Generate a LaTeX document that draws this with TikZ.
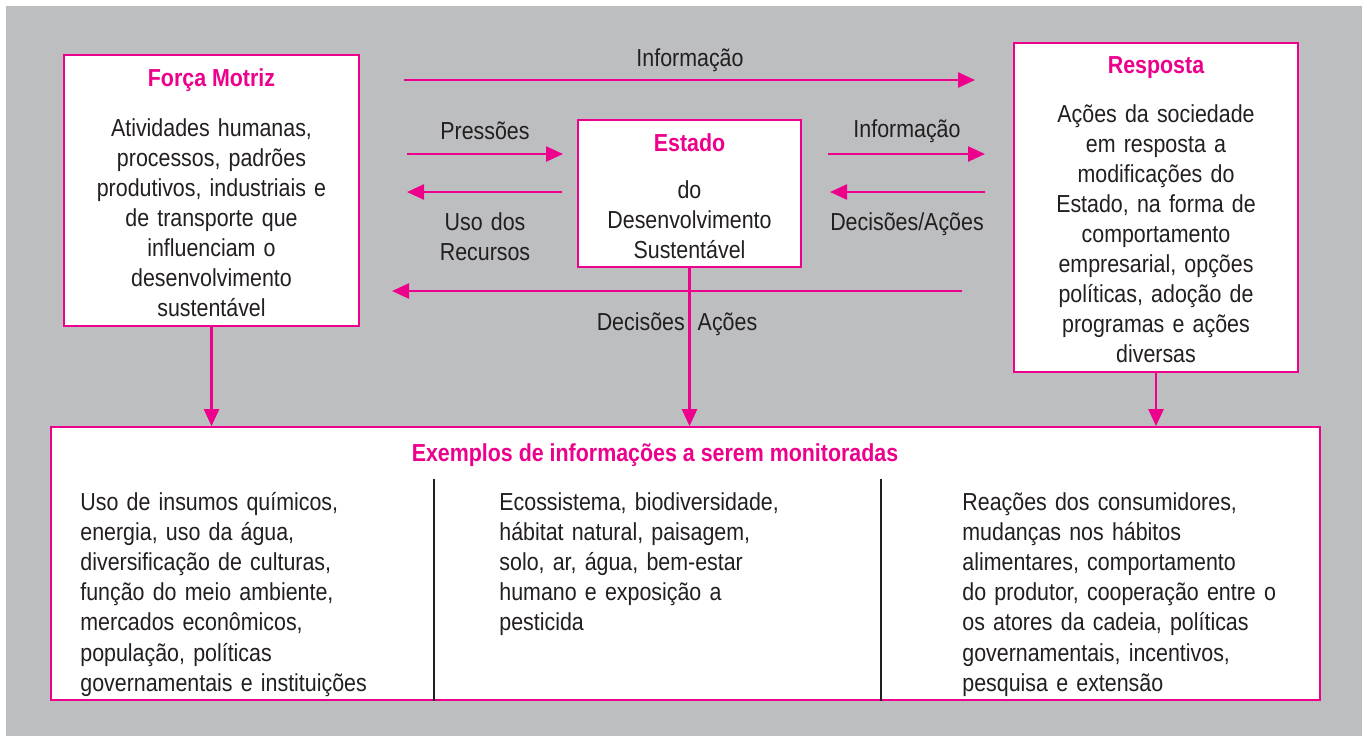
\documentclass[tikz,border=0pt]{standalone}
\usepackage{fontspec}
\setmainfont[FakeStretch=0.87]{Liberation Sans}
\usetikzlibrary{arrows.meta}
\definecolor{mag}{HTML}{EC008C}
\definecolor{bg}{HTML}{BCBEC0}
\definecolor{ink}{HTML}{231F20}
\begin{document}
\begin{tikzpicture}[x=0.5pt,y=-0.5pt,
  box/.style={draw=mag,line width=0.9pt,fill=white,inner sep=0pt,rectangle},
  txt/.style={text=ink,font=\fontsize{12.3}{15.05}\selectfont,inner sep=0pt,align=center,text width=170pt,anchor=base},
  coltxt/.style={text=ink,font=\fontsize{12.3}{15.1}\selectfont,inner sep=0pt,align=left,text width=190pt,anchor=base west},
  ttl/.style={text=mag,font=\fontsize{12.3}{15}\selectfont\bfseries,inner sep=0pt,anchor=base},
  arr/.style={draw=mag,line width=1.2pt,-{Triangle[length=8.5pt,width=7.5pt]}},
  divline/.style={draw=ink,line width=0.6pt}]
\useasboundingbox (0,0) rectangle (1367,736);
\fill[white] (0,0) rectangle (1367,736);
\fill[bg] (6,6) rectangle (1362,736);

% boxes
\node[box,minimum width=147.5pt,minimum height=135.5pt] (fm) at (211.5,190.5) {};
\node[box,minimum width=111.5pt,minimum height=73.5pt] (est) at (689.5,193.5) {};
\node[box,minimum width=142pt,minimum height=164.5pt] (resp) at (1156,207.5) {};
\node[box,minimum width=634.5pt,minimum height=136.5pt] (bot) at (685.5,563.5) {};

% box titles and texts
\node[ttl] (fmt) at (211.5,86) {Força Motriz};
\node[txt] (fmb) at (211.5,136) {Atividades humanas,\\processos, padrões\\produtivos, industriais e\\de transporte que\\influenciam o\\desenvolvimento\\sustentável};
\node[ttl] (estt) at (689.5,151) {Estado};
\node[txt] (estb) at (689.5,198) {do\\Desenvolvimento\\Sustentável};
\node[ttl] (respt) at (1156,73) {Resposta};
\node[txt] (respb) at (1156,122) {Ações da sociedade\\em resposta a\\modificações do\\Estado, na forma de\\comportamento\\empresarial, opções\\políticas, adoção de\\programas e ações\\diversas};
\node[ttl] (bott) at (655,461) {Exemplos de informações a serem monitoradas};

% columns
\node[coltxt] (c1) at (80,510) {Uso de insumos químicos,\\energia, uso da água,\\diversificação de culturas,\\função do meio ambiente,\\mercados econômicos,\\população, políticas\\governamentais e instituições};
\node[coltxt] (c2) at (499,510) {Ecossistema, biodiversidade,\\hábitat natural, paisagem,\\solo, ar, água, bem-estar\\humano e exposição a\\pesticida};
\node[coltxt] (c3) at (962,510) {Reações dos consumidores,\\mudanças nos hábitos\\alimentares, comportamento\\do produtor, cooperação entre o\\os atores da cadeia, políticas\\governamentais, incentivos,\\pesquisa e extensão};

% dividers
\coordinate (d1a) at (434,479);
\coordinate (d2a) at (881,479);
\draw[divline] (d1a) -- (d1a |- bot.south);
\draw[divline] (d2a) -- (d2a |- bot.south);

% arrow labels
\node[txt] (linfo1) at (690,66) {Informação};
\node[txt] (lpress) at (485,139) {Pressões};
\node[txt] (luso) at (485,230) {Uso dos\\Recursos};
\node[txt] (linfo2) at (907,137) {Informação};
\node[txt] (ldec1) at (907,230) {Decisões/Ações};
\node[txt] (ldec2) at (677,330) {Decisões\hspace{6.5pt}Ações};

% arrow end points
\coordinate (a1s) at (404,80);  \coordinate (a1e) at (975,80);
\coordinate (a2s) at (407,154); \coordinate (a2e) at (563,154);
\coordinate (a3s) at (562,192); \coordinate (a3e) at (407,192);
\coordinate (a4s) at (828,154); \coordinate (a4e) at (985,154);
\coordinate (a5s) at (985,192); \coordinate (a5e) at (830,192);
\coordinate (a6s) at (962,291); \coordinate (a6e) at (392,291);

\draw[arr] (a1s) -- (a1e);
\draw[arr] (a2s) -- (a2e);
\draw[arr] (a3s) -- (a3e);
\draw[arr] (a4s) -- (a4e);
\draw[arr] (a5s) -- (a5e);
\draw[arr] (a6s) -- (a6e);
\draw[arr] (fm.south) -- (fm.south |- bot.north);
\draw[arr] (est.south) -- (est.south |- bot.north);
\draw[arr] (resp.south) -- (resp.south |- bot.north);
\end{tikzpicture}
\end{document}
